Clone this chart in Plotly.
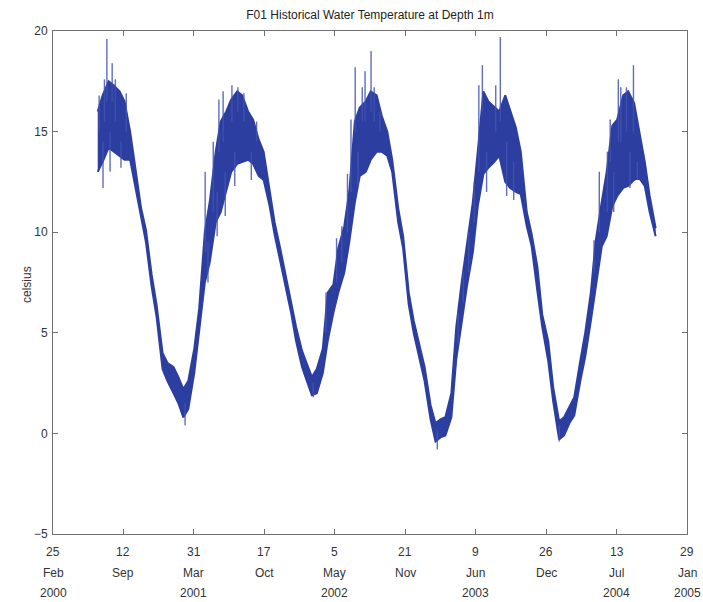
import pandas as pd
import plotly.graph_objects as go

# ---------------- data ----------------
# semi-monthly readings (1st and 15th) of the lower / upper envelope of the noisy record
knot_dates = pd.date_range("2000-07-01", "2004-11-01", freq="SMS")

temp_low = [
    # 2000 Jul..Dec
    13.0, 13.5, 14.2, 14.0, 13.8, 13.6, 13.6, 12.3, 10.6, 9.5, 7.3, 5.8,
    # 2001
    3.2, 2.6, 2.0, 1.5, 0.8, 1.2, 3.0, 5.0, 7.5, 8.5, 10.5, 11.0,
    12.0, 13.0, 13.4, 13.5, 13.6, 13.4, 12.8, 12.6, 11.3, 9.9, 8.6, 7.3,
    # 2002
    6.0, 4.6, 3.3, 2.6, 1.9, 2.0, 3.0, 4.6, 6.0, 7.0, 8.0, 9.5,
    11.5, 12.8, 13.0, 13.6, 14.0, 14.0, 13.8, 13.0, 10.5, 9.2, 6.4, 5.0,
    # 2003
    3.6, 2.6, 0.7, -0.4, -0.2, -0.1, 0.8, 3.7, 5.6, 7.3, 9.0, 11.3,
    12.9, 13.2, 13.5, 13.8, 12.5, 12.2, 12.0, 11.9, 10.3, 9.3, 7.1, 5.3,
    # 2004 Jan..Nov 1
    3.6, 1.6, -0.3, -0.1, 0.5, 0.9, 2.6, 3.8, 5.6, 7.3, 9.3, 9.8,
    11.3, 11.8, 12.2, 12.3, 12.6, 12.7, 12.3, 11.0, 9.8,
]
temp_high = [
    16.0, 16.8, 17.5, 17.3, 17.0, 16.5, 15.0, 13.3, 11.2, 10.1, 7.9, 6.4,
    4.0, 3.5, 3.3, 2.8, 2.2, 2.6, 4.2, 6.2, 10.0, 11.5, 14.0, 15.5,
    16.0, 16.6, 17.0, 16.8, 16.0, 15.6, 14.6, 14.0, 12.2, 10.5, 9.2, 8.0,
    6.6, 5.3, 4.1, 3.4, 2.8, 3.2, 4.2, 7.0, 7.4, 9.2, 10.3, 12.0,
    15.5, 16.2, 16.5, 17.0, 16.8, 15.8, 15.0, 13.6, 11.2, 9.8, 7.0, 5.6,
    4.3, 3.3, 1.4, 0.5, 0.7, 0.8, 2.0, 5.3, 7.6, 9.3, 11.5, 14.0,
    17.0, 16.5, 16.2, 16.0, 16.8, 16.0, 15.2, 14.0, 11.0, 9.9, 8.3, 5.9,
    4.6, 2.3, 0.6, 0.8, 1.3, 1.8, 3.6, 5.0, 7.0, 9.6, 11.5, 13.0,
    15.3, 15.6, 16.8, 17.0, 16.4, 15.0, 13.5, 11.8, 10.2,
]

# isolated spikes: date, value the spike starts from, value it reaches
spike_dates = [
    "2000-07-05", "2000-07-16", "2000-07-20", "2000-07-27", "2000-08-05", "2000-08-11",
    "2000-08-20", "2000-09-05", "2000-09-20",
    "2001-03-06", "2001-05-02", "2001-05-10", "2001-05-25", "2001-06-05", "2001-06-10",
    "2001-06-22", "2001-06-28", "2001-07-17", "2001-07-25", "2001-08-03", "2001-08-20",
    "2001-09-10", "2001-09-25",
    "2002-03-05", "2002-04-10", "2002-05-10", "2002-05-25", "2002-06-10", "2002-06-20",
    "2002-07-02", "2002-07-10", "2002-07-22", "2002-07-30", "2002-08-16", "2002-08-25",
    "2002-09-10",
    "2003-02-20", "2003-04-20", "2003-05-05", "2003-05-20", "2003-06-05", "2003-06-18",
    "2003-06-28", "2003-07-10", "2003-08-05", "2003-08-18", "2003-09-05", "2003-09-25",
    "2004-02-01", "2004-05-10", "2004-05-25", "2004-06-17", "2004-06-25", "2004-07-05",
    "2004-07-18", "2004-07-25", "2004-08-10", "2004-08-20", "2004-08-30", "2004-09-10",
]
spike_base = [
    15.0, 14.5, 15.5, 16.5, 15.0, 16.5, 15.5, 14.5, 15.0,
    1.5, 9.0, 9.5, 11.0, 12.0, 14.0, 14.5, 13.0, 15.5, 14.0, 16.0, 15.5, 14.0, 14.5,
    2.5, 5.0, 7.5, 8.5, 10.0, 12.0, 15.0, 14.0, 15.5, 15.5, 16.0, 15.5, 15.0,
    0.2, 4.5, 6.5, 8.0, 10.5, 13.0, 16.0, 14.0, 15.0, 15.5, 14.5, 13.5,
    0.4, 8.0, 10.0, 11.0, 13.5, 13.0, 14.5, 14.5, 15.0, 14.0, 15.0, 13.5,
]
spike_top = [
    16.8, 12.2, 17.6, 19.6, 13.0, 18.4, 17.6, 13.2, 16.9,
    0.4, 13.0, 7.5, 14.5, 9.8, 16.6, 17.0, 10.8, 17.3, 12.3, 17.2, 16.9, 12.6, 15.5,
    1.8, 7.0, 9.7, 10.3, 12.9, 15.6, 18.2, 12.3, 17.2, 18.0, 19.0, 17.2, 16.0,
    -0.8, 6.0, 8.0, 10.0, 12.5, 17.3, 18.3, 12.0, 17.3, 19.7, 11.8, 11.6,
    -0.4, 9.6, 13.0, 14.0, 15.6, 11.0, 17.6, 17.2, 17.2, 12.2, 18.3, 12.6,
]

# axis ticks
tick_dates = ["2000-02-25", "2000-09-12", "2001-03-31", "2001-10-17", "2002-05-05",
              "2002-11-21", "2003-06-09", "2003-12-26", "2004-07-13", "2005-01-29"]
tick_days = ["25", "12", "31", "17", "5", "21", "9", "26", "13", "29"]
tick_months = ["Feb", "Sep", "Mar", "Oct", "May", "Nov", "Jun", "Dec", "Jul", "Jan"]
tick_years = ["2000", "", "2001", "", "2002", "", "2003", "", "2004", "2005"]
y_ticks = [-5, 0, 5, 10, 15, 20]

# ---------------- figure ----------------
BLUE = "rgb(44,62,160)"
FONT = "Liberation Sans, Arial, sans-serif"
TXT = "#333333"
AXC = "#707070"

fig = go.Figure()
fig.add_trace(go.Scatter(x=knot_dates, y=temp_high, mode="lines",
                         line=dict(color=BLUE, width=2), showlegend=False,
                         hoverinfo="skip"))
fig.add_trace(go.Scatter(x=knot_dates, y=temp_low, mode="lines", fill="tonexty",
                         fillcolor=BLUE, line=dict(color=BLUE, width=2),
                         showlegend=False, hoverinfo="skip"))

sx, sy = [], []
for d, b, t in zip(spike_dates, spike_base, spike_top):
    sx += [d, d, None]
    sy += [b, t, None]
fig.add_trace(go.Scatter(x=sx, y=sy, mode="lines",
                         line=dict(color="rgba(66,84,178,0.85)", width=1.4),
                         showlegend=False, hoverinfo="skip"))

axis_common = dict(showline=True, linecolor=AXC, linewidth=1, mirror="ticks",
                   ticks="inside", ticklen=5, tickcolor=AXC, showgrid=False,
                   zeroline=False, tickfont=dict(family=FONT, size=12, color=TXT))

fig.update_xaxes(type="date", range=["2000-02-25", "2005-01-29"],
                 tickvals=tick_dates, showticklabels=False, **axis_common)
fig.update_yaxes(range=[-5, 20], tickvals=y_ticks, ticklabelstandoff=2, **axis_common)

for rows, shift in ((tick_days, -18), (tick_months, -39), (tick_years, -59)):
    for d, txt in zip(tick_dates, rows):
        if txt:
            fig.add_annotation(x=d, xref="x", y=0, yref="paper", yshift=shift,
                               text=txt, showarrow=False, yanchor="middle",
                               font=dict(family=FONT, size=12, color=TXT))

fig.add_annotation(x=0, xref="paper", xshift=-35, y=0.495, yref="paper",
                   text="celsius", textangle=-90, showarrow=False,
                   font=dict(family=FONT, size=12, color=TXT))

fig.update_layout(
    width=703, height=602,
    margin=dict(l=53, r=16, t=31, b=68),
    paper_bgcolor="white", plot_bgcolor="white",
    title=dict(text="F01 Historical Water Temperature at Depth 1m",
               x=0.5, xref="paper", y=1 - 15 / 602, yref="container",
               yanchor="middle", font=dict(family=FONT, size=12, color="#222222")),
)

fig.write_html("out.html")
